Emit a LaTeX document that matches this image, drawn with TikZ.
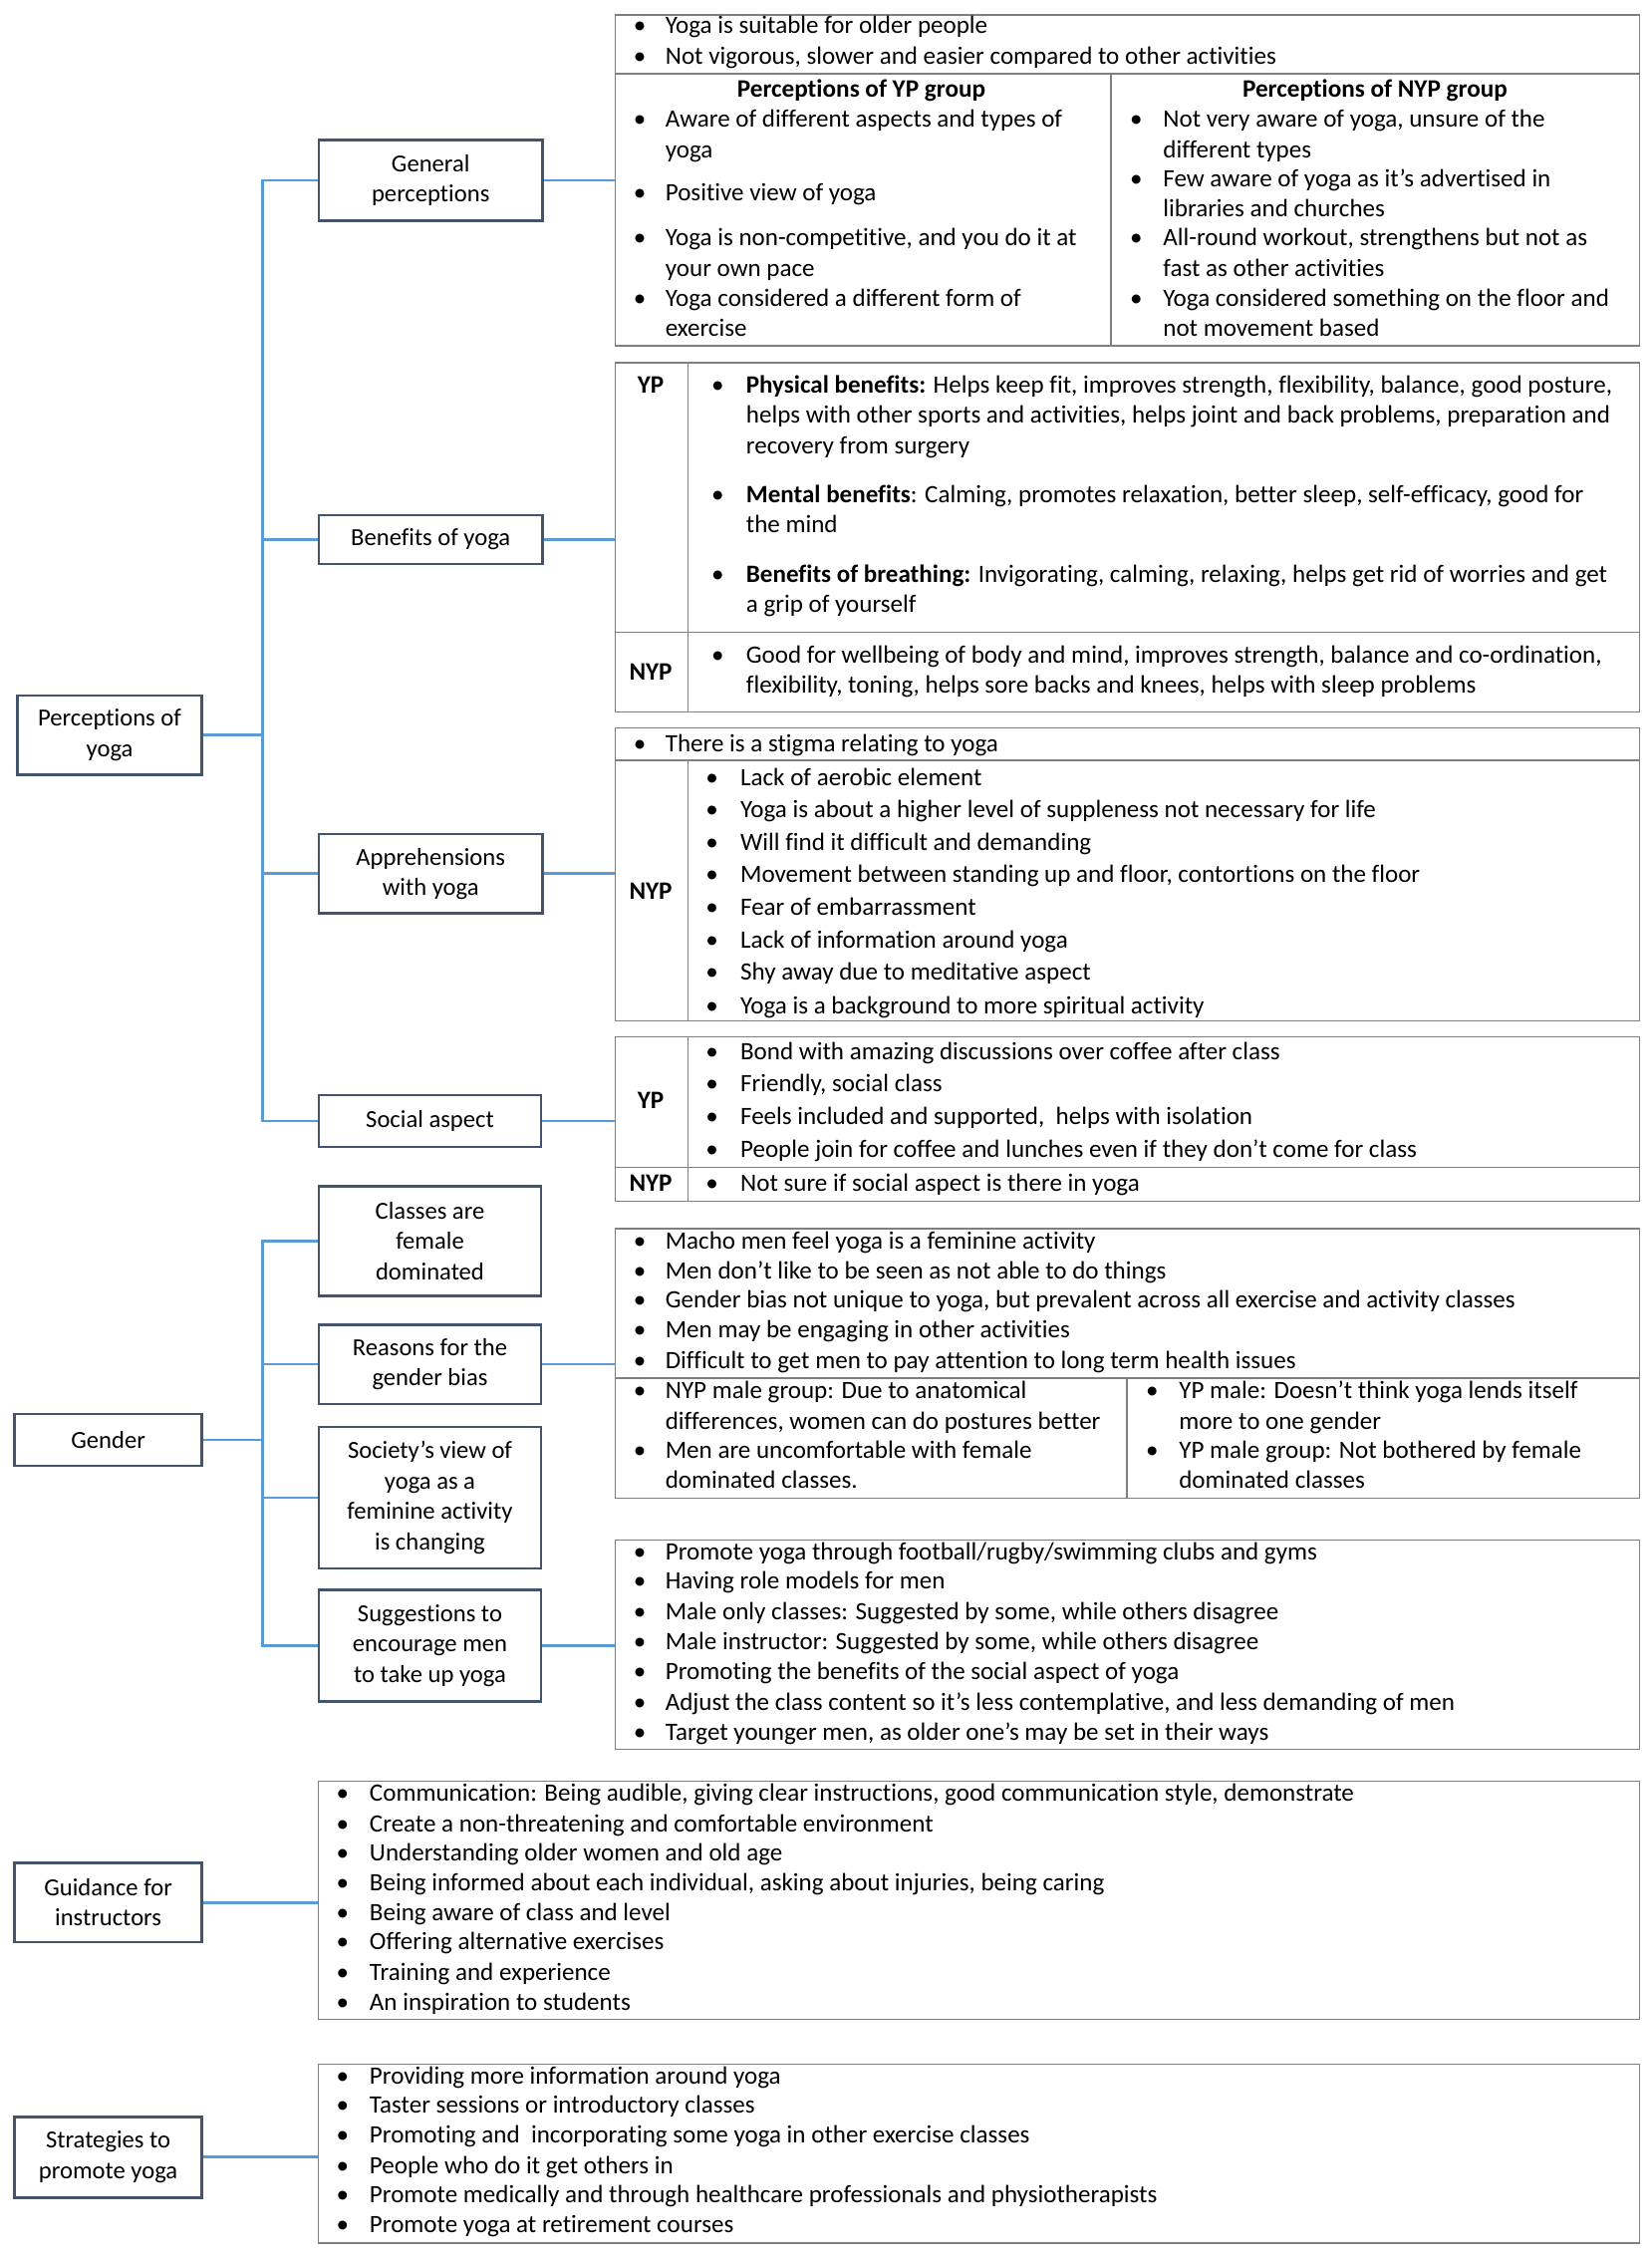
\documentclass[tikz,border=0pt]{standalone}
\usepackage{fontspec}
\setmainfont{Carlito}[Ligatures={TeX,NoCommon}]
\definecolor{boxc}{HTML}{44546A}
\definecolor{connc}{HTML}{5B9BD5}
\definecolor{tabc}{HTML}{7F7F7F}
\newcommand{\bitem}[4]{\node[bul] (bu#1x#3) at (#1,#3) {•}; \node[txt] (tx#2x#3) at (#2,#3) {#4};}
\newcommand{\contl}[3]{\node[txt] (tx#1x#2) at (#1,#2) {#3};}
\begin{document}
\begin{tikzpicture}[x=1pt,y=-1pt,
 lbox/.style={draw=boxc, line width=1.8pt, fill=white, inner sep=0pt, align=center, font=\fontsize{17}{21}\selectfont},
 conn/.style={draw=connc, line width=1.8pt},
 cbox/.style={draw=tabc, line width=1pt, inner sep=0pt, anchor=north west},
 tline/.style={draw=tabc, line width=1pt},
 txt/.style={anchor=west, inner sep=0pt, font=\fontsize{17.3}{20}\selectfont, text height=13pt, text depth=4.3pt},
 bul/.style={txt},
 lab/.style={anchor=center, inner sep=0pt, font=\bfseries\fontsize{17.4}{20}\selectfont, text height=13pt, text depth=4.3pt}]
\useasboundingbox (0,0) rectangle (1145,1566.3);

% ---------- level 0 boxes
\node[lbox, minimum width=128pt, minimum height=55pt] (pery) at (76,509.5) {Perceptions of\\yoga};
\node[lbox, minimum width=130pt, minimum height=36pt] (gend) at (75,998) {Gender};
\node[lbox, minimum width=130pt, minimum height=55pt] (guid) at (75,1318.5) {Guidance for\\instructors};
\node[lbox, minimum width=130pt, minimum height=56pt] (strat) at (75,1495) {Strategies to\\promote yoga};

% ---------- level 1 boxes
\node[lbox, minimum width=155pt, minimum height=56pt] (genp) at (298.5,125) {General\\perceptions};
\node[lbox, minimum width=155pt, minimum height=34pt] (bene) at (298.5,374) {Benefits of yoga};
\node[lbox, minimum width=155pt, minimum height=55pt] (appr) at (298.5,605.5) {Apprehensions\\with yoga};
\node[lbox, minimum width=154pt, minimum height=36pt] (soci) at (298,777) {Social aspect};
\node[lbox, minimum width=154pt, minimum height=76pt] (clas) at (298,860) {Classes are\\female\\dominated};
\node[lbox, minimum width=154pt, minimum height=55pt] (reas) at (298,945.5) {Reasons for the\\gender bias};
\node[lbox, minimum width=154pt, minimum height=98pt] (socv) at (298,1038) {Society's view of\\yoga as a\\feminine activity\\is changing};
\node[lbox, minimum width=154pt, minimum height=77pt] (sugg) at (298,1140.5) {Suggestions to\\encourage men\\to take up yoga};

% ---------- content boxes (tables)
\node[cbox, minimum width=710pt, minimum height=229pt] (tgen) at (426,10) {};
\node[cbox, minimum width=710pt, minimum height=242pt] (tben) at (426,251) {};
\node[cbox, minimum width=710pt, minimum height=203pt] (tapp) at (426,504) {};
\node[cbox, minimum width=710pt, minimum height=114pt] (tsoc) at (426,718) {};
\node[cbox, minimum width=710pt, minimum height=187pt] (trea) at (426,851) {};
\node[cbox, minimum width=710pt, minimum height=145pt] (tsug) at (426,1067) {};
\node[cbox, minimum width=916pt, minimum height=165pt] (tgui) at (220,1234) {};
\node[cbox, minimum width=916pt, minimum height=124pt] (tstr) at (220,1430) {};

% ---------- connectors
\coordinate (j1) at (182,509.5);
\coordinate (j2) at (182,998);
\draw[conn] (pery.east) -- (j1);
\draw[conn] (genp.west) -- (genp.west -| j1) -- (soci.west -| j1) -- (soci.west);
\draw[conn] (bene.west) -- (bene.west -| j1);
\draw[conn] (appr.west) -- (appr.west -| j1);
\draw[conn] (gend.east) -- (j2);
\draw[conn] (clas.west) -- (clas.west -| j2) -- (sugg.west -| j2) -- (sugg.west);
\draw[conn] (reas.west) -- (reas.west -| j2);
\draw[conn] (socv.west) -- (socv.west -| j2);
\draw[conn] (genp.east) -- (genp.east -| tgen.west);
\draw[conn] (bene.east) -- (bene.east -| tben.west);
\draw[conn] (appr.east) -- (appr.east -| tapp.west);
\draw[conn] (soci.east) -- (soci.east -| tsoc.west);
\draw[conn] (reas.east) -- (reas.east -| trea.west);
\draw[conn] (sugg.east) -- (sugg.east -| tsug.west);
\draw[conn] (guid.east) -- (guid.east -| tgui.west);
\draw[conn] (strat.east) -- (strat.east -| tstr.west);

% redraw table borders on top of connector ends
\node[cbox, minimum width=710pt, minimum height=229pt] (tgenb) at (426,10) {};
\node[cbox, minimum width=710pt, minimum height=242pt] (tbenb) at (426,251) {};
\node[cbox, minimum width=710pt, minimum height=203pt] (tappb) at (426,504) {};
\node[cbox, minimum width=710pt, minimum height=114pt] (tsocb) at (426,718) {};
\node[cbox, minimum width=710pt, minimum height=187pt] (treab) at (426,851) {};
\node[cbox, minimum width=710pt, minimum height=145pt] (tsugb) at (426,1067) {};
\node[cbox, minimum width=916pt, minimum height=165pt] (tguib) at (220,1234) {};
\node[cbox, minimum width=916pt, minimum height=124pt] (tstrb) at (220,1430) {};

% ---------- inner table lines
\draw[tline] (426,51) -- (1136,51);
\draw[tline] (770,51) -- (770,239);
\draw[tline] (426,438) -- (1136,438);
\draw[tline] (477,251) -- (477,493);
\draw[tline] (426,527) -- (1136,527);
\draw[tline] (477,527) -- (477,707);
\draw[tline] (426,809) -- (1136,809);
\draw[tline] (477,718) -- (477,832);
\draw[tline] (426,955) -- (1136,955);
\draw[tline] (781,955) -- (781,1038);

% ---------- General perceptions table
\bitem{439}{461}{19}{Yoga is suitable for older people}
\bitem{439}{461}{40}{Not vigorous, slower and easier compared to other activities}
\node[lab] (hyp) at (597,63) {Perceptions of YP group};
\node[lab] (hnyp) at (953,63) {Perceptions of NYP group};
\bitem{439}{461}{84}{Aware of different aspects and types of}
\contl{461}{105}{yoga}
\bitem{439}{461}{135}{Positive view of yoga}
\bitem{439}{461}{166}{Yoga is non-competitive, and you do it at}
\contl{461}{187}{your own pace}
\bitem{439}{461}{208}{Yoga considered a different form of}
\contl{461}{229}{exercise}
\bitem{783}{806}{84}{Not very aware of yoga, unsure of the}
\contl{806}{105}{different types}
\bitem{783}{806}{125}{Few aware of yoga as it's advertised in}
\contl{806}{146}{libraries and churches}
\bitem{783}{806}{166}{All-round workout, strengthens but not as}
\contl{806}{187}{fast as other activities}
\bitem{783}{806}{208}{Yoga considered something on the floor and}
\contl{806}{229}{not movement based}

% ---------- Benefits table
\node[lab] (byp) at (451,268) {YP};
\node[lab] (bnyp) at (451,467) {NYP};
\bitem{493}{517}{268}{\textbf{Physical benefits:} Helps keep fit, improves strength, flexibility, balance, good posture,}
\contl{517}{289}{helps with other sports and activities, helps joint and back problems, preparation and}
\contl{517}{310}{recovery from surgery}
\bitem{493}{517}{344}{\textbf{Mental benefits}: Calming, promotes relaxation, better sleep, self-efficacy, good for}
\contl{517}{365}{the mind}
\bitem{493}{517}{399}{\textbf{Benefits of breathing:} Invigorating, calming, relaxing, helps get rid of worries and get}
\contl{517}{420}{a grip of yourself}
\bitem{493}{517}{455}{Good for wellbeing of body and mind, improves strength, balance and co-ordination,}
\contl{517}{476}{flexibility, toning, helps sore backs and knees, helps with sleep problems}

% ---------- Apprehensions table
\bitem{439}{461}{517}{There is a stigma relating to yoga}
\node[lab] (anyp) at (451,619) {NYP};
\bitem{489}{513}{540}{Lack of aerobic element}
\bitem{489}{513}{562}{Yoga is about a higher level of suppleness not necessary for life}
\bitem{489}{513}{585}{Will find it difficult and demanding}
\bitem{489}{513}{607}{Movement between standing up and floor, contortions on the floor}
\bitem{489}{513}{630}{Fear of embarrassment}
\bitem{489}{513}{653}{Lack of information around yoga}
\bitem{489}{513}{675}{Shy away due to meditative aspect}
\bitem{489}{513}{698}{Yoga is a background to more spiritual activity}

% ---------- Social table
\node[lab] (syp) at (451,764) {YP};
\node[lab] (snyp) at (451,821) {NYP};
\bitem{489}{513}{730}{Bond with amazing discussions over coffee after class}
\bitem{489}{513}{752}{Friendly, social class}
\bitem{489}{513}{775}{Feels included and supported,\ \ helps with isolation}
\bitem{489}{513}{798}{People join for coffee and lunches even if they don't come for class}
\bitem{489}{513}{821}{Not sure if social aspect is there in yoga}

% ---------- Reasons table
\bitem{439}{461}{861}{Macho men feel yoga is a feminine activity}
\bitem{439}{461}{882}{Men don't like to be seen as not able to do things}
\bitem{439}{461}{902}{Gender bias not unique to yoga, but prevalent across all exercise and activity classes}
\bitem{439}{461}{923}{Men may be engaging in other activities}
\bitem{439}{461}{944}{Difficult to get men to pay attention to long term health issues}
\bitem{439}{461}{965}{NYP male group: Due to anatomical}
\contl{461}{986}{differences, women can do postures better}
\bitem{439}{461}{1006}{Men are uncomfortable with female}
\contl{461}{1027}{dominated classes.}
\bitem{794}{817}{965}{YP male: Doesn't think yoga lends itself}
\contl{817}{986}{more to one gender}
\bitem{794}{817}{1006}{YP male group: Not bothered by female}
\contl{817}{1027}{dominated classes}

% ---------- Suggestions box
\bitem{439}{461}{1077}{Promote yoga through football/rugby/swimming clubs and gyms}
\bitem{439}{461}{1097}{Having role models for men}
\bitem{439}{461}{1118}{Male only classes: Suggested by some, while others disagree}
\bitem{439}{461}{1139}{Male instructor: Suggested by some, while others disagree}
\bitem{439}{461}{1160}{Promoting the benefits of the social aspect of yoga}
\bitem{439}{461}{1181}{Adjust the class content so it’s less contemplative, and less demanding of men}
\bitem{439}{461}{1202}{Target younger men, as older one’s may be set in their ways}

% ---------- Guidance box
\bitem{233}{256}{1244}{Communication: Being audible, giving clear instructions, good communication style, demonstrate}
\bitem{233}{256}{1265}{Create a non-threatening and comfortable environment}
\bitem{233}{256}{1285}{Understanding older women and old age}
\bitem{233}{256}{1306}{Being informed about each individual, asking about injuries, being caring}
\bitem{233}{256}{1327}{Being aware of class and level}
\bitem{233}{256}{1347}{Offering alternative exercises}
\bitem{233}{256}{1368}{Training and experience}
\bitem{233}{256}{1389}{An inspiration to students}

% ---------- Strategies box
\bitem{233}{256}{1440}{Providing more information around yoga}
\bitem{233}{256}{1460}{Taster sessions or introductory classes}
\bitem{233}{256}{1481}{Promoting and\ \ incorporating some yoga in other exercise classes}
\bitem{233}{256}{1502}{People who do it get others in}
\bitem{233}{256}{1522}{Promote medically and through healthcare professionals and physiotherapists}
\bitem{233}{256}{1543}{Promote yoga at retirement courses}
\end{tikzpicture}
\end{document}
